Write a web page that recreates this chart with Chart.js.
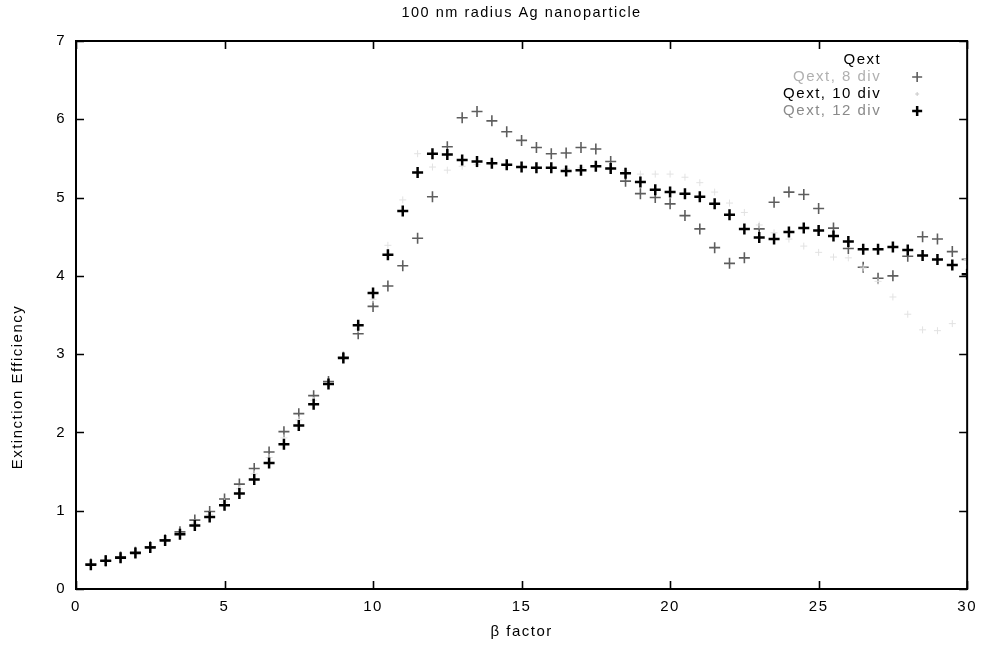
<!DOCTYPE html>
<html>
<head>
<meta charset="utf-8">
<script src="https://cdn.jsdelivr.net/npm/chart.js@4.4.0/dist/chart.umd.min.js"></script>
<style>
html,body{margin:0;padding:0;background:#fff;}
#wrap{width:986px;height:651px;}
</style>
</head>
<body>
<div id="wrap"><canvas id="c" width="986" height="651"></canvas></div>
<script>
// ---- data ----
const betaFactor = [0.5,1,1.5,2,2.5,3,3.5,4,4.5,5,5.5,6,6.5,7,7.5,8,8.5,9,9.5,10,
  10.5,11,11.5,12,12.5,13,13.5,14,14.5,15,15.5,16,16.5,17,17.5,18,18.5,19,19.5,20,
  20.5,21,21.5,22,22.5,23,23.5,24,24.5,25,25.5,26,26.5,27,27.5,28,28.5,29,29.5,30];

const qext8div = [0.32,0.36,0.41,0.47,0.54,0.63,0.73,0.88,0.99,1.15,1.34,1.54,1.75,2.01,2.24,2.47,2.65,2.96,3.26,3.61,
  3.87,4.13,4.48,5.01,5.65,6.02,6.10,5.98,5.84,5.73,5.64,5.56,5.57,5.64,5.62,5.46,5.21,5.05,5.00,4.92,
  4.77,4.60,4.36,4.16,4.23,4.60,4.94,5.07,5.04,4.86,4.61,4.35,4.11,3.97,4.00,4.25,4.50,4.47,4.31,4.21];

const qext10div = [0.31,0.36,0.40,0.46,0.53,0.62,0.71,0.84,0.95,1.11,1.28,1.47,1.68,1.93,2.16,2.41,2.63,2.95,3.32,3.70,
  4.39,4.97,5.56,5.39,5.35,5.40,5.42,5.42,5.41,5.40,5.39,5.38,5.37,5.38,5.40,5.38,5.34,5.30,5.30,5.30,
  5.26,5.19,5.07,4.93,4.81,4.65,4.55,4.47,4.38,4.30,4.24,4.23,4.10,3.93,3.73,3.51,3.31,3.30,3.39,4.21];

const qext12div = [0.31,0.36,0.40,0.46,0.53,0.62,0.70,0.81,0.92,1.07,1.22,1.40,1.61,1.85,2.09,2.36,2.62,2.95,3.37,3.78,
  4.27,4.83,5.32,5.56,5.55,5.48,5.46,5.44,5.42,5.39,5.38,5.38,5.34,5.35,5.40,5.37,5.31,5.20,5.10,5.07,
  5.05,5.01,4.92,4.78,4.60,4.49,4.47,4.56,4.61,4.58,4.51,4.44,4.34,4.34,4.37,4.33,4.26,4.21,4.14,4.02];

const xTicks = [0,5,10,15,20,25,30];
const yTicks = [0,1,2,3,4,5,6,7];

const chartTitle = '100 nm radius Ag nanoparticle';
const xTitle = 'β factor';
const yTitle = 'Extinction Efficiency';
const legendTitle = 'Qext';
const seriesLabels = ['Qext, 8 div', 'Qext, 10 div', 'Qext, 12 div'];

// ---- build chart ----
const toPoints = ys => betaFactor.map((x, i) => ({x: x, y: ys[i]}));
const FONT = '"Liberation Sans", Arial, Helvetica, sans-serif';
const SPACING = '1.5px';

const styles = [
  {color: '#5e5e5e', width: 1.6, radius: 5.5, legendText: '#b0b0b0'},
  {color: '#e2e2e2', width: 1,   radius: 3.5, legendText: '#000000'},
  {color: '#000000', width: 2.5, radius: 5.5, legendText: '#8a8a8a'}
];
const seriesValues = [qext8div, qext10div, qext12div];

const datasets = seriesValues.map((vals, i) => ({
  label: seriesLabels[i],
  data: toPoints(vals),
  showLine: false,
  pointStyle: 'cross',
  pointRadius: styles[i].radius,
  pointHoverRadius: styles[i].radius,
  pointBorderWidth: styles[i].width,
  borderColor: styles[i].color,
  backgroundColor: styles[i].color,
  order: 3 - i
}));

const gnuplotLook = {
  id: 'gnuplotLook',
  beforeUpdate(chart) { chart.ctx.letterSpacing = SPACING; },
  beforeLayout(chart) { chart.ctx.letterSpacing = SPACING; },
  beforeDraw(chart) {
    const ctx = chart.ctx;
    ctx.letterSpacing = SPACING;
    ctx.save();
    ctx.fillStyle = '#fff';
    ctx.fillRect(0, 0, chart.width, chart.height);
    ctx.restore();
  },
  afterDraw(chart) {
    const ctx = chart.ctx;
    const ca = chart.chartArea;
    const xs = chart.scales.x, ys = chart.scales.y;
    ctx.save();
    ctx.letterSpacing = SPACING;
    // frame
    ctx.strokeStyle = '#000';
    ctx.lineWidth = 2;
    ctx.strokeRect(ca.left, ca.top, ca.right - ca.left, ca.bottom - ca.top);
    // inward ticks, mirrored
    ctx.lineWidth = 1.6;
    ctx.beginPath();
    xTicks.forEach(v => {
      const px = Math.round(xs.getPixelForValue(v)) + 0.5;
      ctx.moveTo(px, ca.bottom); ctx.lineTo(px, ca.bottom - 8);
      ctx.moveTo(px, ca.top); ctx.lineTo(px, ca.top + 8);
    });
    yTicks.forEach(v => {
      const py = Math.round(ys.getPixelForValue(v)) + 0.5;
      ctx.moveTo(ca.left, py); ctx.lineTo(ca.left + 8, py);
      ctx.moveTo(ca.right, py); ctx.lineTo(ca.right - 8, py);
    });
    ctx.stroke();
    // title
    ctx.fillStyle = '#000';
    ctx.font = '14.5px ' + FONT;
    ctx.textAlign = 'center';
    ctx.textBaseline = 'middle';
    ctx.fillText(chartTitle, (ca.left + ca.right) / 2, 13);
    // y axis title (placed as in the reference, below the plot's mid-height)
    ctx.save();
    ctx.translate(18, 387);
    ctx.rotate(-Math.PI / 2);
    ctx.font = '15px ' + FONT;
    ctx.fillText(yTitle, 0, 0);
    ctx.restore();
    // legend (gnuplot style: right-aligned text, marker to the right)
    ctx.font = '15px ' + FONT;
    ctx.textAlign = 'right';
    const textRight = ca.right - 86;
    const markX = ca.right - 50;
    ctx.fillText(legendTitle, textRight, ca.top + 19);
    seriesLabels.forEach((lab, i) => {
      const y = ca.top + 36 + i * 17;
      ctx.fillStyle = styles[i].legendText;
      ctx.fillText(lab, textRight, y);
      const r = i === 1 ? 2 : 5;
      ctx.strokeStyle = i === 1 ? '#c8c8c8' : styles[i].color;
      ctx.lineWidth = styles[i].width;
      ctx.beginPath();
      ctx.moveTo(markX - r, y); ctx.lineTo(markX + r, y);
      ctx.moveTo(markX, y - r); ctx.lineTo(markX, y + r);
      ctx.stroke();
    });
    ctx.restore();
  }
};

new Chart(document.getElementById('c'), {
  type: 'scatter',
  data: {datasets: datasets},
  plugins: [gnuplotLook],
  options: {
    responsive: false,
    animation: false,
    devicePixelRatio: 1,
    layout: {padding: {top: 41, right: 18, left: 0, bottom: 0}},
    plugins: {legend: {display: false}, tooltip: {enabled: false}, title: {display: false}},
    scales: {
      x: {
        type: 'linear', min: 0, max: 30,
        afterBuildTicks: s => { s.ticks = xTicks.map(v => ({value: v})); },
        afterFit: s => { s.height = 62; },
        grid: {display: false, drawTicks: false},
        border: {display: false},
        ticks: {color: '#000', padding: 9, font: {family: FONT, size: 15}, maxRotation: 0},
        title: {display: true, text: xTitle, color: '#000', font: {family: FONT, size: 15}, padding: {top: 0, bottom: 10}}
      },
      y: {
        type: 'linear', min: 0, max: 7,
        afterBuildTicks: s => { s.ticks = yTicks.map(v => ({value: v})); },
        afterFit: s => { s.width = 76; },
        grid: {display: false, drawTicks: false},
        border: {display: false},
        ticks: {color: '#000', padding: 10, font: {family: FONT, size: 15}}
      }
    }
  }
});
</script>
</body>
</html>
